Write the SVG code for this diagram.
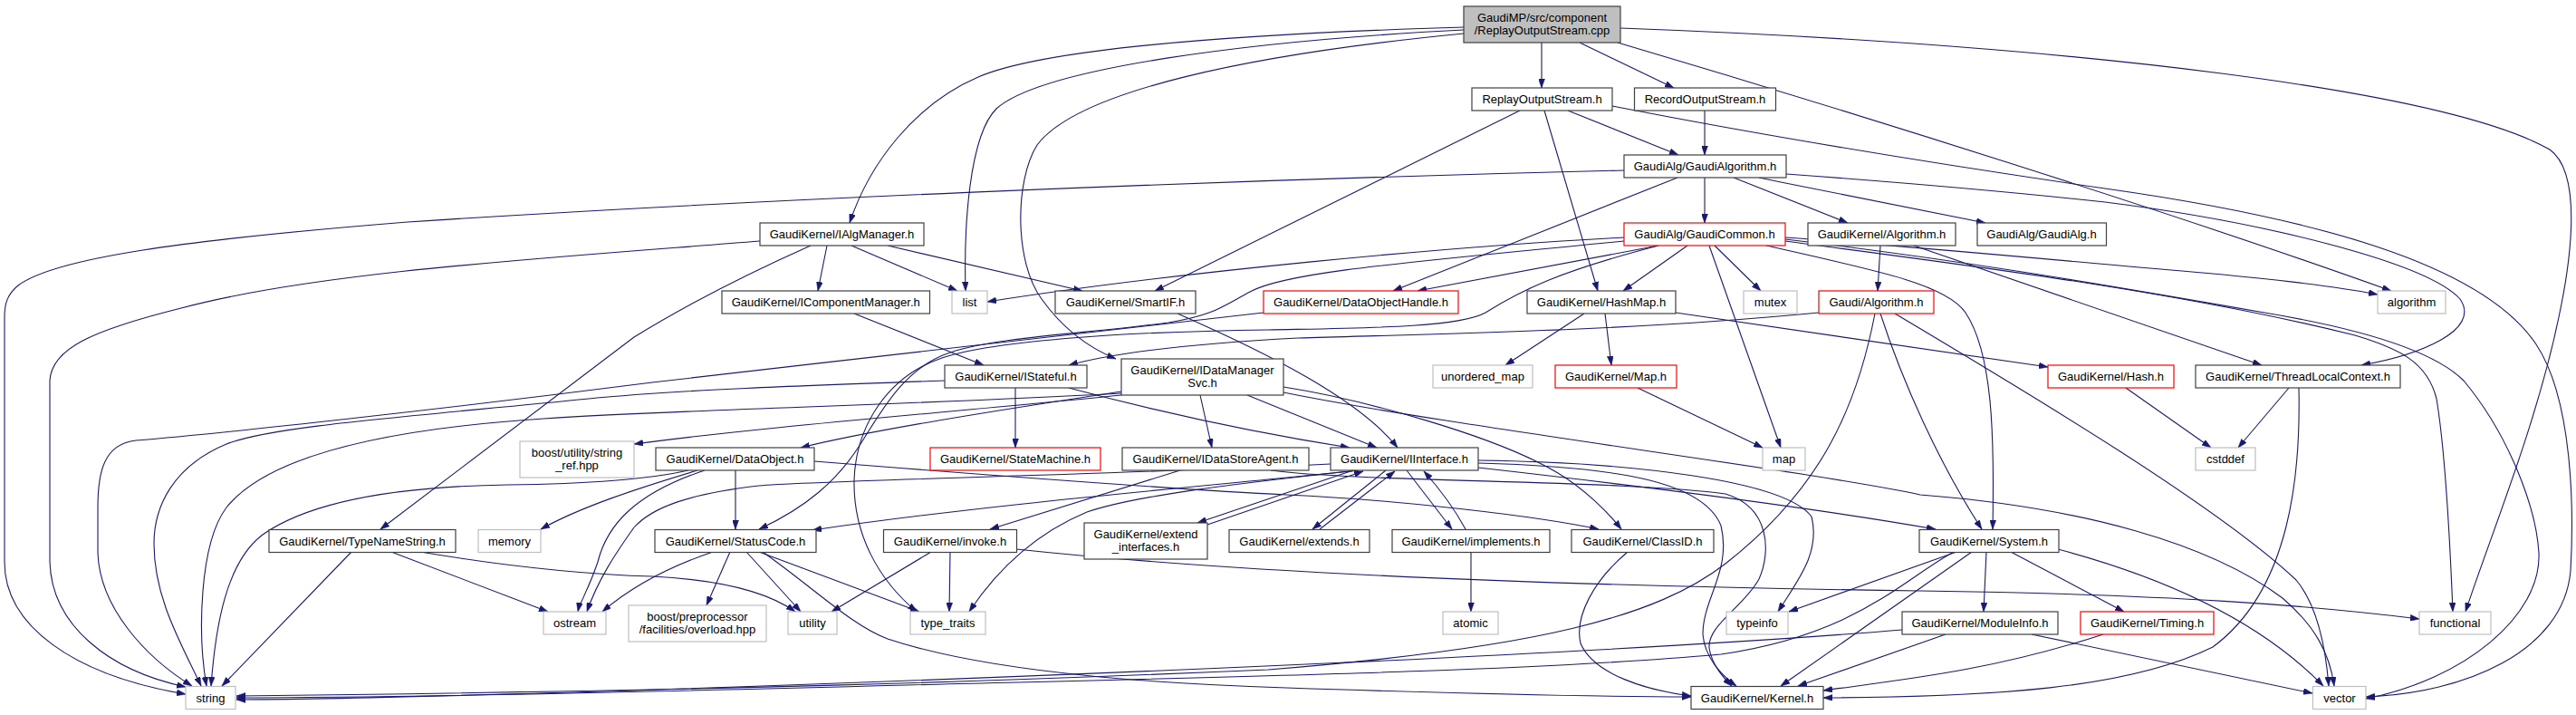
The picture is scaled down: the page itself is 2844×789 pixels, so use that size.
<svg xmlns="http://www.w3.org/2000/svg" width="2844" height="789" viewBox="0 0 2844 789">
<style>
rect{stroke-width:1.2}
.b{fill:#fff;stroke:#404040}
.g{fill:#fff;stroke:#bfbfbf}
.r{fill:#fff;stroke:#ff0000}
.top{fill:#bfbfbf;stroke:#404040}
text{font-family:"Liberation Sans",Arial,Helvetica,sans-serif;font-size:13px;fill:#000;text-anchor:middle}
#edges path{fill:none;stroke:#191970;stroke-width:1.1;marker-end:url(#ah)}
</style>
<defs>
<marker id="ah" viewBox="0 0 10 7" markerUnits="userSpaceOnUse" markerWidth="10" markerHeight="7" refX="10" refY="3.5" orient="auto">
<path d="M0,0 L10,3.5 L0,7 z" fill="#191970" stroke="#191970" stroke-width="0.5"/>
</marker>
</defs>
<rect x="0" y="0" width="2844" height="789" fill="#fff"/>
<g id="edges">
<path d="M1702,47 L1702,97"/>
<path d="M1744,47 L1848,97"/>
<path d="M1616,30 C1350,38 1150,55 1080,85 C1010,115 960,180 938,246"/>
<path d="M1616,33 C1380,45 1150,75 1100,120 C1070,150 1064,250 1066,321"/>
<path d="M1616,37 C1380,60 1190,100 1145,160 C1120,200 1120,290 1150,330 C1175,365 1205,385 1232,396"/>
<path d="M1786,47 C2050,125 2400,235 2640,321"/>
<path d="M1789,31 C2300,50 2700,100 2815,165 C2850,190 2840,280 2825,350 C2800,470 2750,590 2722,675"/>
<path d="M1731,122 L1853,171"/>
<path d="M1678,122 L1275,321"/>
<path d="M1705,122 L1764,321"/>
<path d="M1780,117 C2000,160 2200,190 2324,208 C2550,240 2740,290 2800,380 C2840,440 2842,560 2838,630 C2830,720 2720,765 2612,769"/>
<path d="M1882,122 L1882,171"/>
<path d="M1793,188 C1300,200 800,222 450,245 C200,265 60,285 20,315 C8,325 5,335 5,350 L5,620 C5,690 80,745 205,766"/>
<path d="M1852,196 L1538,321"/>
<path d="M1882,196 L1882,246"/>
<path d="M1914,196 L2040,246"/>
<path d="M1942,196 C2030,214 2120,232 2192,246"/>
<path d="M1972,192 C2150,205 2250,215 2324,223 C2500,245 2680,290 2716,330 C2740,365 2670,392 2607,403"/>
<path d="M1793,262 C1600,272 1300,300 1090,333"/>
<path d="M1793,266 C1550,290 1420,300 1380,322 C1350,338 1340,348 1290,356 C1200,368 1100,372 1049,389 C1000,405 975,450 950,490 C925,530 890,560 838,584"/>
<path d="M1831,271 C1720,300 1680,320 1640,345 C1610,362 1500,362 1400,364 C1250,366 1100,375 1040,395 C980,415 945,470 943,530 C942,590 970,640 1012,675"/>
<path d="M1831,271 L1565,321"/>
<path d="M1863,271 L1792,321"/>
<path d="M1893,271 L1944,321"/>
<path d="M1887,271 L1966,494"/>
<path d="M1950,271 C2080,300 2150,315 2170,345 C2200,390 2202,480 2200,584"/>
<path d="M1971,262 C2150,275 2300,290 2420,300 C2500,307 2570,314 2625,325"/>
<path d="M1971,264 C2150,285 2300,310 2500,345 C2620,365 2690,390 2720,420 C2770,480 2800,560 2803,610 C2806,680 2720,750 2612,771"/>
<path d="M1971,266 C2150,290 2400,320 2600,370 C2650,385 2680,400 2690,440 C2700,500 2705,600 2708,675"/>
<path d="M2076,271 L2073,321"/>
<path d="M2113,271 L2497,403"/>
<path d="M913,271 L903,321"/>
<path d="M940,271 L1057,321"/>
<path d="M980,271 L1195,321"/>
<path d="M895,271 C830,300 760,335 700,372 L420,584"/>
<path d="M839,266 C600,285 350,300 200,340 C100,365 57,385 55,420 L55,620 C57,690 120,740 205,758"/>
<path d="M943,346 L1086,403"/>
<path d="M1300,346 C1400,390 1500,440 1543,494"/>
<path d="M1395,345 C1200,368 950,395 720,422 C500,450 250,478 150,486 C115,490 108,520 108,560 L108,610 C110,670 160,725 212,757"/>
<path d="M1121,428 L1121,494"/>
<path d="M1043,420 C900,425 750,430 650,440 C450,460 300,470 250,490 C190,515 170,560 170,600 C170,660 200,710 222,757"/>
<path d="M1180,428 C1300,460 1400,480 1490,494"/>
<path d="M1325,436 L1338,494"/>
<path d="M1377,436 L1520,494"/>
<path d="M1238,432 C1100,453 960,475 884,494"/>
<path d="M1238,434 C1000,447 750,452 600,462 C400,475 290,510 250,560 C220,600 218,700 228,757"/>
<path d="M1238,436 C1050,455 850,470 700,490"/>
<path d="M1417,427 C1500,440 1650,480 1720,522 C1750,540 1775,565 1790,584"/>
<path d="M1417,433 C1600,470 2000,520 2120,546 C2300,560 2440,600 2520,660 C2555,690 2572,720 2577,757"/>
<path d="M1303,519 L1093,584"/>
<path d="M1403,519 C1500,532 1800,530 1905,545 C1955,560 1955,610 1942,639 C1925,670 1885,690 1887,715 C1890,735 1905,750 1912,757"/>
<path d="M1632,511 C1780,515 1880,530 1900,580 C1912,630 1880,660 1880,700 C1882,725 1900,745 1917,757"/>
<path d="M1494,519 L1322,577"/>
<path d="M1333,579 L1505,520"/>
<path d="M1530,519 L1449,584"/>
<path d="M1457,584 L1540,520"/>
<path d="M1553,519 L1603,584"/>
<path d="M1618,584 C1605,560 1590,540 1572,520"/>
<path d="M1500,519 C1350,535 1100,555 897,585"/>
<path d="M1469,512 C1200,525 900,530 838,536 C760,545 720,560 700,582 C680,610 660,640 648,675"/>
<path d="M1500,519 C1350,535 1250,548 1200,565 C1140,590 1100,630 1070,675"/>
<path d="M1632,508 C1800,510 1970,530 2000,570 C2010,610 1985,640 1963,675"/>
<path d="M1632,516 C1800,535 2000,560 2137,584"/>
<path d="M812,519 L812,584"/>
<path d="M770,519 C700,540 640,560 597,584"/>
<path d="M778,519 C700,545 670,580 660,620 C650,650 640,665 638,675"/>
<path d="M760,519 C720,528 650,534 560,535 C430,537 340,555 290,590 C250,620 238,690 233,757"/>
<path d="M899,509 C1100,525 1300,540 1420,546 C1550,552 1700,570 1765,584"/>
<path d="M787,609 C740,625 700,645 665,675"/>
<path d="M806,609 L780,668"/>
<path d="M824,609 L884,675"/>
<path d="M838,609 L1015,675"/>
<path d="M842,609 C900,650 940,690 980,705 C1100,745 1300,755 1420,759 C1600,765 1750,769 1867,769"/>
<path d="M388,609 L245,757"/>
<path d="M432,609 L605,675"/>
<path d="M464,609 C560,625 650,634 720,636 C800,640 850,655 878,675"/>
<path d="M1028,609 L918,675"/>
<path d="M1049,609 L1048,675"/>
<path d="M1122,606 C1300,625 1600,645 2120,652 C2400,656 2550,668 2671,683"/>
<path d="M1624,609 L1624,675"/>
<path d="M1797,609 C1760,640 1738,680 1745,710 C1760,745 1820,762 1867,768"/>
<path d="M2160,609 L1975,675"/>
<path d="M2157,609 C2100,640 2050,700 1900,722 C1700,740 1400,746 1000,756 C700,764 400,770 261,770"/>
<path d="M2177,609 L1966,757"/>
<path d="M2193,609 L2190,675"/>
<path d="M2220,609 L2345,675"/>
<path d="M2272,606 C2400,640 2500,690 2565,757"/>
<path d="M2100,695 C1800,720 1200,745 700,762 C500,768 350,772 261,772"/>
<path d="M2148,700 L1985,757"/>
<path d="M2243,700 L2553,765"/>
<path d="M2322,700 C2200,740 2100,750 2013,762"/>
<path d="M2527,428 L2471,494"/>
<path d="M2538,428 C2540,520 2530,650 2443,714 C2350,760 2200,769 2013,770"/>
<path d="M2347,428 L2441,494"/>
<path d="M1749,346 L1662,403"/>
<path d="M1772,346 L1779,403"/>
<path d="M1850,345 C2000,368 2150,388 2261,405"/>
<path d="M1808,428 L1946,494"/>
<path d="M2008,345 C1800,365 1600,368 1433,373 C1300,380 1220,392 1180,403"/>
<path d="M2076,346 C2100,420 2140,510 2188,584"/>
<path d="M2070,346 C2050,450 2010,540 1905,622 C1830,680 1700,715 1400,739 C1100,752 800,762 261,768"/>
<path d="M2092,346 C2250,440 2450,560 2535,640 C2560,670 2568,720 2571,757"/>
</g>
<g id="n_top"><rect class="top" x="1616" y="7" width="173" height="40"/><text x="1702.5" y="23.5">GaudiMP/src/component</text><text x="1702.5" y="38">/ReplayOutputStream.cpp</text></g>
<g id="n_replay_h"><rect class="b" x="1625" y="97" width="155" height="25"/><text x="1702.5" y="114">ReplayOutputStream.h</text></g>
<g id="n_record_h"><rect class="b" x="1804.5" y="97" width="156" height="25"/><text x="1882.5" y="114">RecordOutputStream.h</text></g>
<g id="n_gaudialgorithm"><rect class="b" x="1793" y="171" width="179" height="25"/><text x="1882.5" y="188">GaudiAlg/GaudiAlgorithm.h</text></g>
<g id="n_ialgmanager"><rect class="b" x="839" y="246" width="181" height="25"/><text x="929.5" y="263">GaudiKernel/IAlgManager.h</text></g>
<g id="n_gaudicommon"><rect class="r" x="1793" y="246" width="178" height="25"/><text x="1882" y="263">GaudiAlg/GaudiCommon.h</text></g>
<g id="n_gk_algorithm"><rect class="b" x="1996" y="246" width="163" height="25"/><text x="2077.5" y="263">GaudiKernel/Algorithm.h</text></g>
<g id="n_gaudialg"><rect class="b" x="2183" y="246" width="142.5" height="25"/><text x="2254" y="263">GaudiAlg/GaudiAlg.h</text></g>
<g id="n_icomponentmanager"><rect class="b" x="797" y="321" width="229.5" height="25"/><text x="911.7" y="338">GaudiKernel/IComponentManager.h</text></g>
<g id="n_list"><rect class="g" x="1051" y="321" width="39" height="25"/><text x="1070.5" y="338">list</text></g>
<g id="n_smartif"><rect class="b" x="1165" y="321" width="155" height="25"/><text x="1242.5" y="338">GaudiKernel/SmartIF.h</text></g>
<g id="n_dataobjecthandle"><rect class="r" x="1395" y="321" width="215" height="25"/><text x="1502.5" y="338">GaudiKernel/DataObjectHandle.h</text></g>
<g id="n_hashmap"><rect class="b" x="1686" y="321" width="164" height="25"/><text x="1768" y="338">GaudiKernel/HashMap.h</text></g>
<g id="n_mutex"><rect class="g" x="1925" y="321" width="59" height="25"/><text x="1954.5" y="338">mutex</text></g>
<g id="n_gaudi_algorithm"><rect class="r" x="2008" y="321" width="127" height="25"/><text x="2071.5" y="338">Gaudi/Algorithm.h</text></g>
<g id="n_algorithm"><rect class="g" x="2625" y="321" width="75" height="25"/><text x="2662.5" y="338">algorithm</text></g>
<g id="n_istateful"><rect class="b" x="1043" y="403" width="157" height="25"/><text x="1121.5" y="420">GaudiKernel/IStateful.h</text></g>
<g id="n_idatamanagersvc"><rect class="b" x="1238" y="396" width="179" height="40"/><text x="1327.5" y="412.7">GaudiKernel/IDataManager</text><text x="1327.5" y="427.3">Svc.h</text></g>
<g id="n_unordered_map"><rect class="g" x="1582" y="403" width="110" height="25"/><text x="1637" y="420">unordered_map</text></g>
<g id="n_map_h"><rect class="r" x="1717" y="403" width="134" height="25"/><text x="1784" y="420">GaudiKernel/Map.h</text></g>
<g id="n_hash"><rect class="r" x="2261" y="403" width="139" height="25"/><text x="2330.5" y="420">GaudiKernel/Hash.h</text></g>
<g id="n_threadlocalcontext"><rect class="b" x="2424" y="403" width="226" height="25"/><text x="2537" y="420">GaudiKernel/ThreadLocalContext.h</text></g>
<g id="n_string_ref"><rect class="g" x="574" y="487" width="126" height="40"/><text x="637" y="503.7">boost/utility/string</text><text x="637" y="518.3">_ref.hpp</text></g>
<g id="n_dataobject"><rect class="b" x="724" y="494" width="175" height="25"/><text x="811.5" y="511">GaudiKernel/DataObject.h</text></g>
<g id="n_statemachine"><rect class="r" x="1027" y="494" width="188" height="25"/><text x="1121" y="511">GaudiKernel/StateMachine.h</text></g>
<g id="n_idatastoreagent"><rect class="b" x="1239" y="494" width="206" height="25"/><text x="1342" y="511">GaudiKernel/IDataStoreAgent.h</text></g>
<g id="n_iinterface"><rect class="b" x="1469" y="494" width="163" height="25"/><text x="1550.5" y="511">GaudiKernel/IInterface.h</text></g>
<g id="n_map"><rect class="g" x="1946" y="494" width="47" height="25"/><text x="1969.5" y="511">map</text></g>
<g id="n_cstddef"><rect class="g" x="2424" y="494" width="66" height="25"/><text x="2457" y="511">cstddef</text></g>
<g id="n_typenamestring"><rect class="b" x="297" y="584.5" width="206" height="25"/><text x="400" y="601.5">GaudiKernel/TypeNameString.h</text></g>
<g id="n_memory"><rect class="g" x="528" y="584.5" width="69" height="25"/><text x="562.5" y="601.5">memory</text></g>
<g id="n_statuscode"><rect class="b" x="723" y="584.5" width="178" height="25"/><text x="812" y="601.5">GaudiKernel/StatusCode.h</text></g>
<g id="n_invoke"><rect class="b" x="975.5" y="584.5" width="147" height="25"/><text x="1049" y="601.5">GaudiKernel/invoke.h</text></g>
<g id="n_extend_interfaces"><rect class="b" x="1197" y="577" width="136" height="40"/><text x="1265" y="593.7">GaudiKernel/extend</text><text x="1265" y="608.3">_interfaces.h</text></g>
<g id="n_extends"><rect class="b" x="1357" y="584.5" width="155" height="25"/><text x="1434.5" y="601.5">GaudiKernel/extends.h</text></g>
<g id="n_implements"><rect class="b" x="1537" y="584.5" width="174" height="25"/><text x="1624" y="601.5">GaudiKernel/implements.h</text></g>
<g id="n_classid"><rect class="b" x="1735" y="584.5" width="157" height="25"/><text x="1813.5" y="601.5">GaudiKernel/ClassID.h</text></g>
<g id="n_system"><rect class="b" x="2119" y="584.5" width="154" height="25"/><text x="2196" y="601.5">GaudiKernel/System.h</text></g>
<g id="n_ostream"><rect class="g" x="600" y="675" width="69" height="25"/><text x="634.5" y="692">ostream</text></g>
<g id="n_overload"><rect class="g" x="694" y="668" width="152" height="40"/><text x="770" y="684.7">boost/preprocessor</text><text x="770" y="699.3">/facilities/overload.hpp</text></g>
<g id="n_utility"><rect class="g" x="870" y="675" width="54" height="25"/><text x="897" y="692">utility</text></g>
<g id="n_type_traits"><rect class="g" x="1005" y="675" width="83" height="25"/><text x="1046.5" y="692">type_traits</text></g>
<g id="n_atomic"><rect class="g" x="1593" y="675" width="61" height="25"/><text x="1623.5" y="692">atomic</text></g>
<g id="n_typeinfo"><rect class="g" x="1906" y="675" width="68" height="25"/><text x="1940" y="692">typeinfo</text></g>
<g id="n_moduleinfo"><rect class="b" x="2100" y="675" width="172" height="25"/><text x="2186" y="692">GaudiKernel/ModuleInfo.h</text></g>
<g id="n_timing"><rect class="r" x="2297" y="675" width="147" height="25"/><text x="2370.5" y="692">GaudiKernel/Timing.h</text></g>
<g id="n_functional"><rect class="g" x="2671" y="675" width="79" height="25"/><text x="2710.5" y="692">functional</text></g>
<g id="n_string"><rect class="g" x="205" y="757.5" width="55" height="25"/><text x="232.5" y="774.5">string</text></g>
<g id="n_kernel"><rect class="b" x="1867" y="757.5" width="146" height="25"/><text x="1940" y="774.5">GaudiKernel/Kernel.h</text></g>
<g id="n_vector"><rect class="g" x="2553.5" y="757.5" width="58.5" height="25"/><text x="2583" y="774.5">vector</text></g>
</svg>
